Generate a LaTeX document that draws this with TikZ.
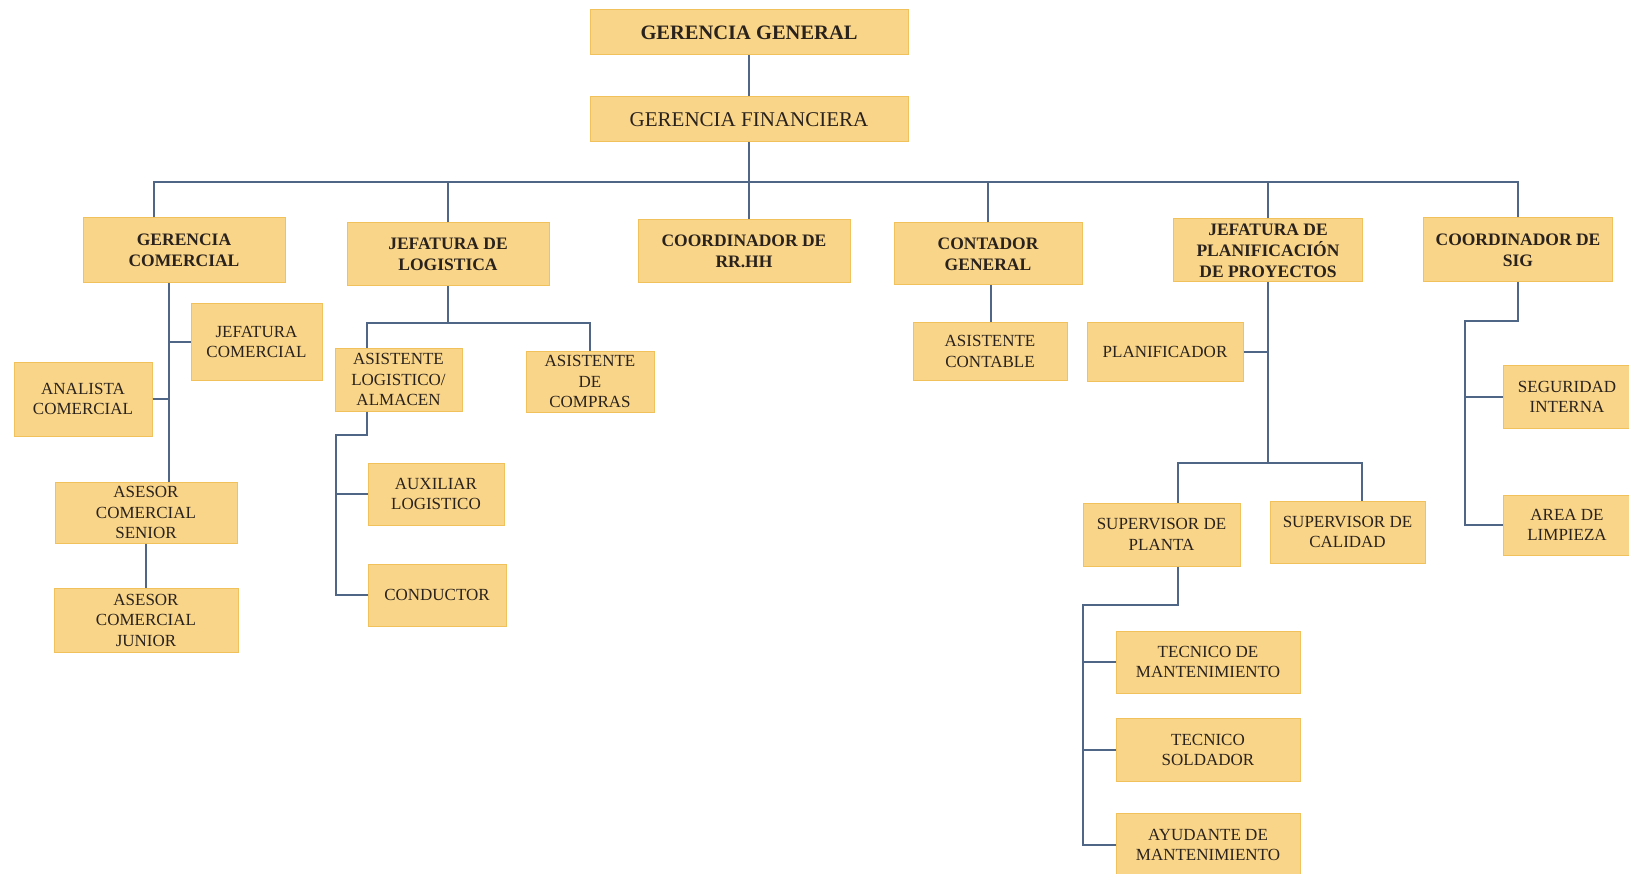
\documentclass[tikz,border=0pt]{standalone}
\usepackage{fontspec}
\setmainfont{Liberation Serif}
\definecolor{boxfill}{HTML}{F9D589}
\definecolor{boxline}{HTML}{F1C25C}
\definecolor{wire}{HTML}{4F6687}
\definecolor{ink}{HTML}{2A221C}
\tikzset{
  box/.style={draw=boxline, fill=boxfill, line width=1pt, text=ink, align=center,
    inner sep=0pt, font=\fontsize{17}{20.5}\selectfont},
  head/.style={box, font=\bfseries\fontsize{17.5}{21}\selectfont},
  conn/.style={draw=wire, line width=2pt},
}
\begin{document}
\begin{tikzpicture}[x=1pt,y=-1pt]
\useasboundingbox (0,0) rectangle (1629,874);
\fill[white] (0,0) rectangle (1629,874);

% top management
\node[box, font=\bfseries\fontsize{20.5}{24}\selectfont, minimum width=318pt, minimum height=45pt] (gg) at (749,32.5) {GERENCIA GENERAL};
\node[box, font=\fontsize{21}{24}\selectfont, minimum width=318pt, minimum height=45pt] (gf) at (749,119.5) {GERENCIA FINANCIERA};

% second level
\node[head, minimum width=202pt, minimum height=65pt] (gc) at (184,250.5) {GERENCIA\\COMERCIAL};
\node[head, minimum width=202pt, minimum height=63pt] (jl) at (448,254.5) {JEFATURA DE\\LOGISTICA};
\node[head, minimum width=212pt, minimum height=63pt] (rrhh) at (744,251.5) {COORDINADOR DE\\RR.HH};
\node[head, minimum width=188pt, minimum height=62pt] (cg) at (988,254) {CONTADOR\\GENERAL};
\node[head, minimum width=189pt, minimum height=63pt] (jp) at (1268,250.5) {JEFATURA DE\\PLANIFICACIÓN\\DE PROYECTOS};
\node[head, minimum width=189pt, minimum height=64pt] (sig) at (1518,250) {COORDINADOR DE\\SIG};

% commercial area
\node[box, minimum width=131pt, minimum height=77pt] (jc) at (256.5,342) {JEFATURA\\COMERCIAL};
\node[box, minimum width=138pt, minimum height=74pt] (ac) at (83,399) {ANALISTA\\COMERCIAL};
\node[box, minimum width=182pt, minimum height=61pt] (as) at (146,512.5) {ASESOR\\COMERCIAL\\SENIOR};
\node[box, minimum width=184pt, minimum height=64pt] (aj) at (146,620) {ASESOR\\COMERCIAL\\JUNIOR};

% logistics area
\node[box, minimum width=127pt, minimum height=63pt] (al) at (398.5,379.5) {ASISTENTE\\LOGISTICO/\\ALMACEN};
\node[box, minimum width=128pt, minimum height=61pt] (acomp) at (590,381.5) {ASISTENTE\\DE\\COMPRAS};
\node[box, minimum width=136pt, minimum height=62pt] (aux) at (436,494) {AUXILIAR\\LOGISTICO};
\node[box, minimum width=138pt, minimum height=62pt] (cond) at (437,595) {CONDUCTOR};

% accounting
\node[box, minimum width=154pt, minimum height=57pt] (acont) at (990,351.5) {ASISTENTE\\CONTABLE};

% project planning
\node[box, minimum width=156pt, minimum height=59pt] (plan) at (1165,352) {PLANIFICADOR};
\node[box, minimum width=157pt, minimum height=63pt] (sp) at (1161.5,534.5) {SUPERVISOR DE\\PLANTA};
\node[box, minimum width=155pt, minimum height=62pt] (sc) at (1347.5,532) {SUPERVISOR DE\\CALIDAD};
\node[box, minimum width=184pt, minimum height=62pt] (tm) at (1208,662) {TECNICO DE\\MANTENIMIENTO};
\node[box, minimum width=184pt, minimum height=63pt] (ts) at (1208,750) {TECNICO\\SOLDADOR};
\node[box, minimum width=184pt, minimum height=64pt] (am) at (1208,845) {AYUDANTE DE\\MANTENIMIENTO};

% management system
\node[box, minimum width=128pt, minimum height=63pt] (seg) at (1567,397) {SEGURIDAD\\INTERNA};
\node[box, minimum width=128pt, minimum height=60pt] (lim) at (1567,525) {AREA DE\\LIMPIEZA};

% connectors: top
\coordinate (bus) at (0,182);
\draw[conn] (gg) -- (gf);
\draw[conn] (gf.south) -- (gf.south |- rrhh.north);
\draw[conn] ([xshift=-30pt]gc.north) |- (bus -| sig.north) -- (sig.north);
\draw[conn] (jl.north) -- (jl.north |- bus);
\draw[conn] (cg.north) -- (cg.north |- bus);
\draw[conn] (jp.north) -- (jp.north |- bus);

% connectors: commercial
\coordinate (gct) at ([xshift=-15pt]gc.south);
\draw[conn] (gct) -- (gct |- as.north);
\draw[conn] (jc.west) -- (jc.west -| gct);
\draw[conn] (ac.east) -- (ac.east -| gct);
\draw[conn] (as) -- (aj);

% connectors: logistics
\coordinate (jlb) at (0,323);
\coordinate (alt) at ([xshift=-31.5pt]al.north);
\draw[conn] (jl.south) -- (jl.south |- jlb);
\draw[conn] (alt) |- (jlb -| acomp.north) -- (acomp.north);
\coordinate (alk) at (336,435);
\draw[conn] ([xshift=-31.5pt]al.south) |- (alk) |- (cond.west);
\draw[conn] (alk |- aux.west) -- (aux.west);

% connectors: accounting
\draw[conn] ([xshift=3pt]cg.south) -- ([xshift=3pt]cg.south |- acont.north);

% connectors: project planning
\coordinate (jpb) at (0,463);
\draw[conn] (jp.south) -- (jp.south |- jpb);
\draw[conn] (plan.east) -- (plan.east -| jp.south);
\coordinate (spt) at ([xshift=16.5pt]sp.north);
\coordinate (sct) at ([xshift=14.5pt]sc.north);
\draw[conn] (spt) |- (sct |- jpb) -- (sct);
\coordinate (spk) at (1083,605);
\draw[conn] ([xshift=16.5pt]sp.south) |- (spk) |- (am.west);
\draw[conn] (spk |- tm.west) -- (tm.west);
\draw[conn] (spk |- ts.west) -- (ts.west);

% connectors: management system
\coordinate (sigk) at (1465,321);
\draw[conn] (sig.south) |- (sigk) |- (lim.west);
\draw[conn] (sigk |- seg.west) -- (seg.west);
\end{tikzpicture}
\end{document}
